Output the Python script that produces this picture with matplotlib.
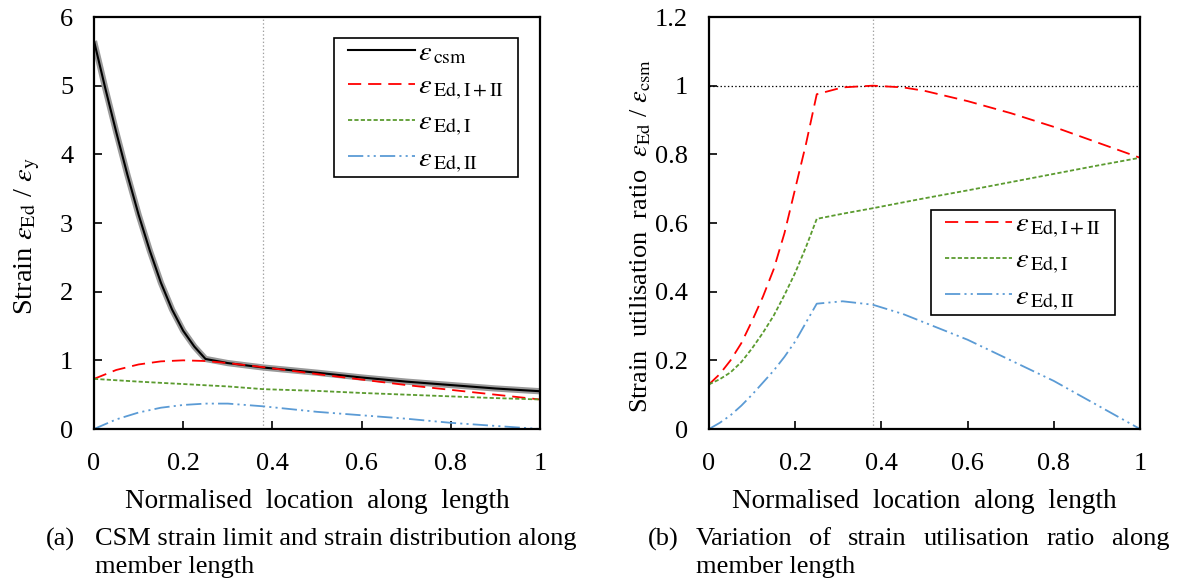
import matplotlib
matplotlib.use('Agg')
import matplotlib.pyplot as plt
from matplotlib.patches import Rectangle

plt.rcParams['font.family'] = ['Liberation Serif', 'DejaVu Serif']
plt.rcParams['mathtext.fontset'] = 'stix'
plt.rcParams['lines.scale_dashes'] = False

# (a) strain along member, normalised by yield strain
x_csm = [0, 0.025, 0.05, 0.075, 0.1, 0.125, 0.15, 0.175, 0.2, 0.225, 0.25,
         0.3, 0.38, 0.5, 0.6, 0.7, 0.8, 0.9, 1.0]
strain_csm = [5.65, 4.97, 4.32, 3.7, 3.12, 2.6, 2.13, 1.74, 1.43, 1.2, 1.02,
              0.96, 0.895, 0.82, 0.75, 0.69, 0.64, 0.59, 0.55]

x_a = [0, 0.05, 0.1, 0.15, 0.2, 0.25, 0.3, 0.38, 0.5, 0.6, 0.7, 0.8, 0.9, 1.0]
strain_total = [0.73, 0.86, 0.94, 0.985, 1.0, 0.99, 0.96, 0.9, 0.8, 0.72, 0.64, 0.57, 0.5, 0.43]
strain_I = [0.73, 0.71, 0.69, 0.672, 0.655, 0.637, 0.62, 0.58, 0.555, 0.525, 0.5, 0.475, 0.45, 0.43]
strain_II = [0.0, 0.14, 0.24, 0.31, 0.35, 0.37, 0.37, 0.33, 0.25, 0.2, 0.15, 0.09, 0.045, 0.0]

# (b) strain utilisation ratio
x_b = [0, 0.025, 0.05, 0.075, 0.1, 0.125, 0.15, 0.175, 0.2, 0.225, 0.25,
       0.31, 0.38, 0.45, 0.5, 0.6, 0.7, 0.8, 0.9, 1.0]
ratio_total = [0.13, 0.16, 0.2, 0.25, 0.315, 0.385, 0.465, 0.57, 0.7, 0.83, 0.975,
               0.995, 1.0, 0.995, 0.985, 0.955, 0.92, 0.88, 0.835, 0.79]
ratio_I = [0.13, 0.145, 0.165, 0.195, 0.235, 0.28, 0.33, 0.39, 0.455, 0.53, 0.612,
           0.627, 0.643, 0.66, 0.672, 0.695, 0.719, 0.743, 0.767, 0.79]
ratio_II = [0.0, 0.018, 0.04, 0.068, 0.1, 0.135, 0.17, 0.21, 0.255, 0.31, 0.365,
            0.372, 0.362, 0.335, 0.31, 0.26, 0.2, 0.14, 0.07, 0.0]

x_crit = 0.38

caption_a = ['CSM strain limit and strain distribution along', 'member length']
caption_b = ['Variation of strain utilisation ratio along', 'member length']

red = '#ff0000'
green = '#5b9b2f'
blue = '#5b9bd5'
dash_red = (0, (9.5, 5))
dash_green = (0, (3, 1.6))
dash_blue = (0, (11, 3, 1.5, 3, 1.5, 3))

fs = 19
W, H = 1180, 582

fig = plt.figure(figsize=(11.8, 5.82), dpi=100)
ax1 = fig.add_axes([94 / W, 1 - 429 / H, 446 / W, 412 / H])
ax2 = fig.add_axes([709 / W, 1 - 429 / H, 431 / W, 412 / H])
renderer = fig.canvas.get_renderer()

leg_kw = dict(borderaxespad=0, fontsize=20.5, handlelength=2.35, handletextpad=0.1,
              labelspacing=0.28, frameon=False, borderpad=0)


def boxed_legend(ax, anchor, padx=14, pady=2):
    leg = ax.legend(loc='upper right', bbox_to_anchor=anchor, **leg_kw)
    leg.set_zorder(6)
    bb = leg.get_window_extent(renderer)
    inv = ax.transAxes.inverted()
    (x0, y0), (x1, y1) = inv.transform([(bb.x0 - padx, bb.y0 - pady), (bb.x1 + padx, bb.y1 + pady)])
    ax.add_patch(Rectangle((x0, y0), x1 - x0, y1 - y0, transform=ax.transAxes,
                           facecolor='white', edgecolor='black', lw=1.2,
                           zorder=5.5, clip_on=False))
    return leg


# panel (a)
ax1.axvline(x_crit, color='#a0a0a0', lw=0.9, ls=':')
ax1.plot(x_csm, strain_csm, color='#999999', lw=4.5, solid_capstyle='butt')
ax1.plot(x_csm, strain_csm, color='black', lw=1.5, label=r'$\varepsilon_{\,\mathrm{csm}}$')
ax1.plot(x_a, strain_total, color=red, lw=1.3, ls=dash_red, label=r'$\varepsilon_{\,\mathrm{Ed,I+II}}$')
ax1.plot(x_a, strain_I, color=green, lw=1.3, ls=dash_green, label=r'$\varepsilon_{\,\mathrm{Ed,I}}$')
ax1.plot(x_a, strain_II, color=blue, lw=1.3, ls=dash_blue, label=r'$\varepsilon_{\,\mathrm{Ed,II}}$')
ax1.set_xlim(0, 1)
ax1.set_ylim(0, 6)
ax1.set_yticks([0, 1, 2, 3, 4, 5, 6])
ax1.set_ylabel(r'Strain $\varepsilon_{\mathrm{Ed}}$ / $\varepsilon_{\mathrm{y}}$', fontsize=20.5)
ax1.yaxis.label.set_va('center')
ax1.yaxis.set_label_coords((27 - 94) / 446, (429 - 236) / 412)

# panel (b)
ax2.axvline(x_crit, color='#a0a0a0', lw=0.9, ls=':')
ax2.axhline(1.0, color='black', lw=0.9, ls=':')
ax2.plot(x_b, ratio_total, color=red, lw=1.3, ls=dash_red, label=r'$\varepsilon_{\,\mathrm{Ed,I+II}}$')
ax2.plot(x_b, ratio_I, color=green, lw=1.3, ls=dash_green, label=r'$\varepsilon_{\,\mathrm{Ed,I}}$')
ax2.plot(x_b, ratio_II, color=blue, lw=1.3, ls=dash_blue, label=r'$\varepsilon_{\,\mathrm{Ed,II}}$')
ax2.set_xlim(0, 1)
ax2.set_ylim(0, 1.2)
ax2.set_yticks([0, 0.2, 0.4, 0.6, 0.8, 1, 1.2])
ax2.set_yticklabels(['0', '0.2', '0.4', '0.6', '0.8', '1', '1.2'])
ax2.set_ylabel(r'Strain  utilisation  ratio  $\varepsilon_{\mathrm{Ed}}$ / $\varepsilon_{\mathrm{csm}}$',
               fontsize=fs)
ax2.yaxis.label.set_va('center')
ax2.yaxis.set_label_coords((641 - 709) / 431, (429 - 236) / 412)

for ax in (ax1, ax2):
    ax.set_xticks([0, 0.2, 0.4, 0.6, 0.8, 1])
    ax.set_xticklabels(['0', '0.2', '0.4', '0.6', '0.8', '1'])
    ax.set_xlabel('Normalised  location  along  length', fontsize=19.6)
    ax.xaxis.label.set_va('center')
    ax.xaxis.set_label_coords(0.5, (429 - 502) / 412)
    ax.tick_params(direction='in', length=6, width=1.2, labelsize=fs)
    ax.tick_params(axis='x', pad=17)
    ax.tick_params(axis='y', pad=15)
    for s in ax.spines.values():
        s.set_linewidth(1.6)

boxed_legend(ax1, ((504 - 94) / 446, (429 - 40) / 412))
boxed_legend(ax2, ((1101 - 709) / 431, (429 - 212) / 412))

# captions
cap = 19
fig.text(46 / W, 1 - 539 / H, '(a)', fontsize=cap, va='center')
fig.text(95 / W, 1 - 539 / H, caption_a[0], fontsize=cap, va='center')
fig.text(95 / W, 1 - 567 / H, caption_a[1], fontsize=cap, va='center')
fig.text(648 / W, 1 - 539 / H, '(b)', fontsize=cap, va='center')
fig.text(696 / W, 1 - 567 / H, caption_b[1], fontsize=cap, va='center')

# first line of caption (b) is justified between x0 and x1
words = caption_b[0].split()
texts = [fig.text(0, 1 - 539 / H, w, fontsize=cap, va='center') for w in words]
widths = [t.get_window_extent(renderer).width for t in texts]
x0, x1 = 696, 1170
gap = (x1 - x0 - sum(widths)) / (len(words) - 1)
x = x0
for t, w in zip(texts, widths):
    t.set_x(x / W)
    x += w + gap

fig.savefig('out.png', dpi=100)
